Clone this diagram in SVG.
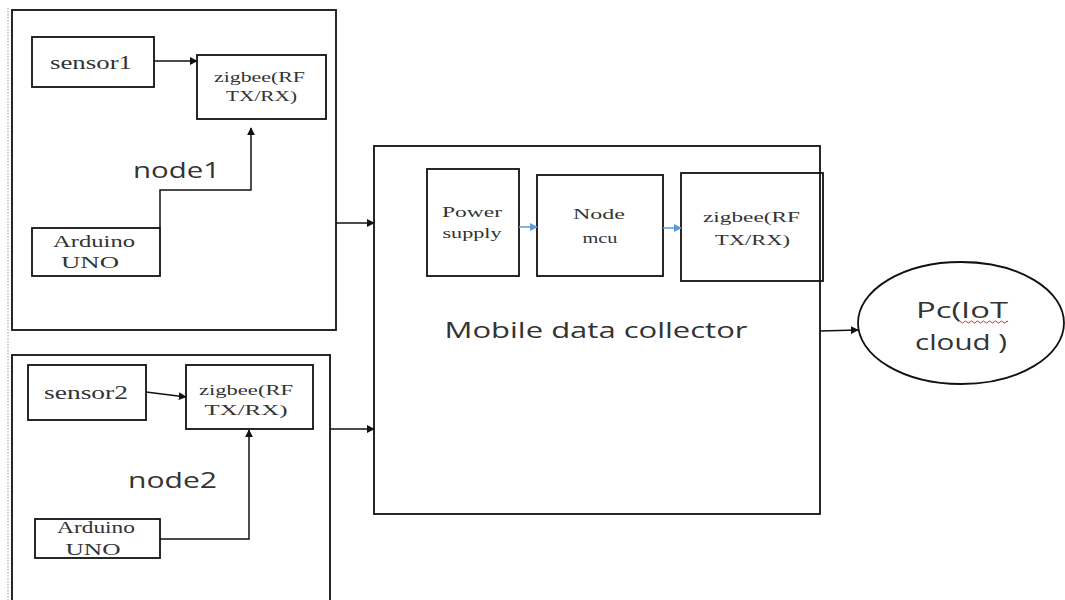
<svg xmlns="http://www.w3.org/2000/svg" width="1065" height="600" viewBox="0 0 1065 600">
<style>
.box{fill:none;stroke:#111;stroke-width:1.8}
.con{fill:none;stroke:#111;stroke-width:1.5}
.blue{fill:none;stroke:#5B9BD5;stroke-width:1.5}
.s{font-family:"Liberation Serif",serif;fill:#333;text-anchor:middle}
.big{font-family:"Open Sans","Liberation Sans",sans-serif;fill:#333;text-anchor:middle}
</style>
<defs>
<marker id="ah" viewBox="0 0 10 10" refX="9" refY="5" markerWidth="8" markerHeight="8" orient="auto" markerUnits="userSpaceOnUse"><path d="M0,0 L10,5 L0,10 z" fill="#111"/></marker>
<marker id="ahb" viewBox="0 0 10 10" refX="9" refY="5" markerWidth="8" markerHeight="8" orient="auto" markerUnits="userSpaceOnUse"><path d="M0,0 L10,5 L0,10 z" fill="#5B9BD5"/></marker>
</defs>
<rect width="1065" height="600" fill="#fff"/>
<line x1="8" y1="8" x2="8" y2="600" stroke="#999" stroke-width="1" stroke-dasharray="1.5,1.5"/>
<g id="node1">
<rect class="box" x="12" y="10" width="324" height="320"/>
<text class="big" x="176.5" y="178" font-size="21" textLength="87" lengthAdjust="spacingAndGlyphs">node1</text>
</g>
<g id="sensor1"><rect class="box" x="32" y="37" width="122" height="50"/><text class="s" x="91" y="69" font-size="18" textLength="82" lengthAdjust="spacingAndGlyphs">sensor1</text></g>
<g id="zigbee1"><rect class="box" x="197" y="55" width="129" height="64"/><text class="s" x="259.5" y="82" font-size="14" textLength="91" lengthAdjust="spacingAndGlyphs">zigbee(RF</text><text class="s" x="261.5" y="101" font-size="14" textLength="71" lengthAdjust="spacingAndGlyphs">TX/RX)</text></g>
<g id="arduino1"><rect class="box" x="32" y="228" width="128" height="48"/><text class="s" x="94" y="247" font-size="17" textLength="82" lengthAdjust="spacingAndGlyphs">Arduino</text><text class="s" x="90" y="268" font-size="17" textLength="58" lengthAdjust="spacingAndGlyphs">UNO</text></g>
<g id="node2">
<rect class="box" x="12" y="355" width="318" height="250"/>
<text class="big" x="172.5" y="488" font-size="21" textLength="89" lengthAdjust="spacingAndGlyphs">node2</text>
</g>
<g id="sensor2"><rect class="box" x="28" y="365" width="118" height="55"/><text class="s" x="86" y="399" font-size="18" textLength="84" lengthAdjust="spacingAndGlyphs">sensor2</text></g>
<g id="zigbee2"><rect class="box" x="186" y="365" width="127" height="64"/><text class="s" x="246" y="395" font-size="15" textLength="94" lengthAdjust="spacingAndGlyphs">zigbee(RF</text><text class="s" x="246" y="415" font-size="15" textLength="83" lengthAdjust="spacingAndGlyphs">TX/RX)</text></g>
<g id="arduino2"><rect class="box" x="35" y="519" width="125" height="39"/><text class="s" x="96" y="533" font-size="17" textLength="78" lengthAdjust="spacingAndGlyphs">Arduino</text><text class="s" x="93" y="555" font-size="17" textLength="55" lengthAdjust="spacingAndGlyphs">UNO</text></g>
<g id="mdc">
<rect class="box" x="374" y="146" width="446" height="368"/>
<text class="big" x="596" y="338" font-size="21" textLength="303" lengthAdjust="spacingAndGlyphs">Mobile data collector</text>
</g>
<g id="power"><rect class="box" x="427" y="169" width="92" height="107"/><text class="s" x="472" y="217" font-size="15" textLength="60" lengthAdjust="spacingAndGlyphs">Power</text><text class="s" x="472" y="238" font-size="15" textLength="59" lengthAdjust="spacingAndGlyphs">supply</text></g>
<g id="nodemcu"><rect class="box" x="537" y="175" width="126" height="101"/><text class="s" x="599" y="219" font-size="15" textLength="52" lengthAdjust="spacingAndGlyphs">Node</text><text class="s" x="600" y="243" font-size="15" textLength="35" lengthAdjust="spacingAndGlyphs">mcu</text></g>
<g id="zigbee3"><rect class="box" x="681" y="173" width="142" height="108"/><text class="s" x="751.5" y="222" font-size="15" textLength="97" lengthAdjust="spacingAndGlyphs">zigbee(RF</text><text class="s" x="752.5" y="245" font-size="15" textLength="75" lengthAdjust="spacingAndGlyphs">TX/RX)</text></g>
<g id="pc">
<ellipse class="box" cx="961" cy="323" rx="103" ry="61"/>
<text class="big" x="962" y="318" font-size="22" textLength="92" lengthAdjust="spacingAndGlyphs">Pc(IoT</text>
<text class="big" x="961" y="350" font-size="22" textLength="92" lengthAdjust="spacingAndGlyphs">cloud )</text>
<path d="M958,322 q1.5,-2 3,0 t3,0 t3,0 t3,0 t3,0 t3,0 t3,0 t3,0 t3,0 t3,0 t3,0 t3,0 t3,0 t3,0 t3,0 t3,0 t2,0" fill="none" stroke="#e03030" stroke-width="1"/>
</g>
<g id="connectors">
<line class="con" x1="154" y1="61" x2="197" y2="61" marker-end="url(#ah)"/>
<polyline class="con" points="160,228 160,190 251,190 251,128" marker-end="url(#ah)"/>
<line class="con" x1="336" y1="223" x2="374" y2="223" marker-end="url(#ah)"/>
<line class="con" x1="146" y1="392" x2="186" y2="397" marker-end="url(#ah)"/>
<polyline class="con" points="160,539 249,539 249,430" marker-end="url(#ah)"/>
<line class="con" x1="330" y1="429" x2="374" y2="429" marker-end="url(#ah)"/>
<line class="blue" x1="519" y1="227" x2="537" y2="227" marker-end="url(#ahb)"/>
<line class="blue" x1="663" y1="228" x2="681" y2="228" marker-end="url(#ahb)"/>
<line class="con" x1="820" y1="331" x2="858" y2="330" marker-end="url(#ah)"/>
</g>
</svg>
